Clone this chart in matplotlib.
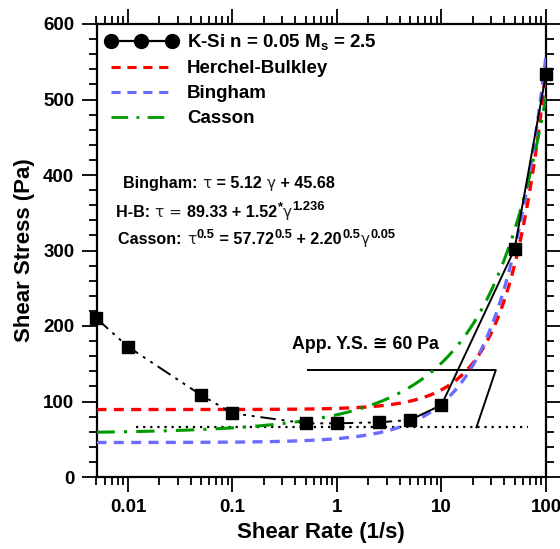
import numpy as np
import matplotlib
matplotlib.use("Agg")
import matplotlib.pyplot as plt
from matplotlib.lines import Line2D
from matplotlib.ticker import MultipleLocator, LogLocator, FixedLocator, FixedFormatter

plt.rcParams['font.family'] = ['Liberation Sans', 'DejaVu Sans']
plt.rcParams['font.weight'] = 'bold'
plt.rcParams['mathtext.fontset'] = 'custom'
plt.rcParams['mathtext.rm'] = 'Liberation Sans:bold'
plt.rcParams['mathtext.it'] = 'Liberation Sans:bold'
plt.rcParams['mathtext.bf'] = 'Liberation Sans:bold'

# Measured flow curve (K-Si, n = 0.05, Ms = 2.5)
shear_rate = [0.005, 0.01, 0.05, 0.1, 0.5, 1, 2.5, 5, 10, 50, 100]
shear_stress = [210, 172.6, 108.6, 84.4, 71.1, 71.1, 72.4, 75.5, 95.4, 301.6, 534]

# Fitted model parameters
bingham_slope, bingham_yield = 5.12, 45.68
hb_yield, hb_k, hb_n = 89.33, 1.52, 1.236
casson_yield, casson_visc = 57.72, 2.20

# Apparent yield stress guide
ys_level = 65.8
ys_range = [0.012, 67]
bracket_x = [0.528, 33.1, 21.6]
bracket_y = [141.7, 141.7, 65.8]

xticks = [0.01, 0.1, 1, 10, 100]
xticklabels = ['0.01', '0.1', '1', '10', '100']

# Model equations, as (text, style) pieces: b = bold, g = greek, s = superscript
eq_bingham = [('Bingham: ', 'b'), ('\u03c4', 'g'), (' = 5.12 ', 'b'), ('\u03b3', 'g'),
              (' + 45.68', 'b')]
eq_hb = [('H-B: ', 'b'), ('\u03c4 = ', 'g'), ('89.33 + 1.52', 'b'), ('*', 's'),
         ('\u03b3', 'g'), ('1.236', 's')]
eq_casson = [('Casson: ', 'b'), ('\u03c4', 'g'), ('0.5', 's'), (' = 57.72', 'b'),
             ('0.5', 's'), (' + 2.20', 'b'), ('0.5', 's'), ('\u03b3', 'g'), ('0.05', 's')]

fig = plt.figure(figsize=(5.6, 5.49), dpi=100)
ax = fig.add_axes([96.5 / 560, 1 - 477 / 549, (546 - 96.5) / 560, (477 - 24) / 549])
ax.set_xscale('log')

g = np.logspace(np.log10(0.005), 2, 300)
tau_hb = hb_yield + hb_k * g ** hb_n
tau_bingham = bingham_slope * g + bingham_yield
tau_casson = (np.sqrt(casson_yield) + np.sqrt(casson_visc) * np.sqrt(g)) ** 2

ax.plot(g, tau_hb, color='#ff0000', lw=2.4, ls=(0, (3, 2.2)), zorder=3)
ax.plot(g, tau_bingham, color='#6b6bff', lw=2.4, ls=(0, (3, 2.2)), zorder=3)
ax.plot(g, tau_casson, color='#009a00', lw=2.2, ls=(0, (6, 3, 1, 3)), zorder=3)

# data connecting lines: dash-dot-dot at low rates, solid at high rates
ax.plot(shear_rate[:8], shear_stress[:8], color='black', lw=1.4,
        ls=(0, (8, 3, 1.5, 3, 1.5, 3)), zorder=4)
ax.plot(shear_rate[7:], shear_stress[7:], color='black', lw=1.4, zorder=4)
ax.plot(shear_rate, shear_stress, ls='none', marker='s', ms=8.8,
        mfc='black', mec='black', zorder=5, clip_on=False)

ax.plot(ys_range, [ys_level, ys_level], color='black', lw=1.6,
        ls=(0, (1, 2.2)), zorder=2)
ax.plot(bracket_x, bracket_y, color='black', lw=1.4, zorder=2)
ax.text(0.37, 175, 'App. Y.S. \u2245 60 Pa', fontsize=12.8, fontweight='bold',
        ha='left', va='center')


def rich_text(x, y, pieces, size=11.6):
    """Draw a run of text pieces left to right, with smaller raised superscripts."""
    first = None
    prev = None
    for txt, kind in pieces:
        kw = dict(fontsize=size, fontweight='bold', color='black')
        rise = 0
        if kind == 'g':
            kw.update(fontweight='normal', family=['DejaVu Sans'], fontsize=size * 0.95,
                      color='#222222')
        elif kind == 's':
            kw.update(fontsize=size * 0.8)
            rise = 4.6
        if first is None:
            first = ax.text(x, y, txt, ha='left', va='bottom', **kw)
            prev = first
        else:
            prev = ax.annotate(txt, xy=(1, 0), xycoords=(prev, first),
                               xytext=(0.3, rise), textcoords='offset points',
                               ha='left', va='bottom', **kw)


rich_text(0.0090, 379, eq_bingham)
rich_text(0.0077, 341, eq_hb)
rich_text(0.0081, 304, eq_casson)

ax.set_xlim(0.005, 100)
ax.set_ylim(0, 600)
ax.xaxis.set_major_locator(FixedLocator(xticks))
ax.xaxis.set_major_formatter(FixedFormatter(xticklabels))
ax.xaxis.set_minor_locator(LogLocator(base=10, subs=np.arange(2, 10)))
ax.yaxis.set_major_locator(MultipleLocator(100))
ax.yaxis.set_minor_locator(MultipleLocator(20))

ax.tick_params(which='both', direction='out', top=True, right=True,
               labeltop=False, labelright=False, width=1.3)
ax.tick_params(which='major', length=11, labelsize=13.5, pad=5)
ax.tick_params(which='minor', length=6)
for lab in ax.get_xticklabels() + ax.get_yticklabels():
    lab.set_fontweight('bold')
for s in ax.spines.values():
    s.set_linewidth(1.6)

ax.set_xlabel('Shear Rate (1/s)', fontsize=16, fontweight='bold', labelpad=4)
ax.set_ylabel('Shear Stress (Pa)', fontsize=16, fontweight='bold', labelpad=6)

handles = [
    Line2D([], [], color='black', lw=1.6, marker='o', ms=10, mfc='black'),
    Line2D([], [], color='#ff0000', lw=2.2, ls=(0, (3, 2.2))),
    Line2D([], [], color='#6b6bff', lw=2.2, ls=(0, (3, 2.2))),
    Line2D([], [], color='#009a00', lw=2.0, ls=(0, (6, 3, 1, 3))),
]
labels = ['K-Si n = 0.05 M$_s$ = 2.5', 'Herchel-Bulkley', 'Bingham', 'Casson']
ax.legend(handles, labels, loc='upper left', bbox_to_anchor=(0.0, 1.0),
          frameon=False, numpoints=3, handlelength=3.85, handletextpad=0.53,
          labelspacing=0.42, borderaxespad=0.05, borderpad=0.4,
          prop={'size': 13.5, 'weight': 'bold'})

fig.savefig('out.png', dpi=100)
